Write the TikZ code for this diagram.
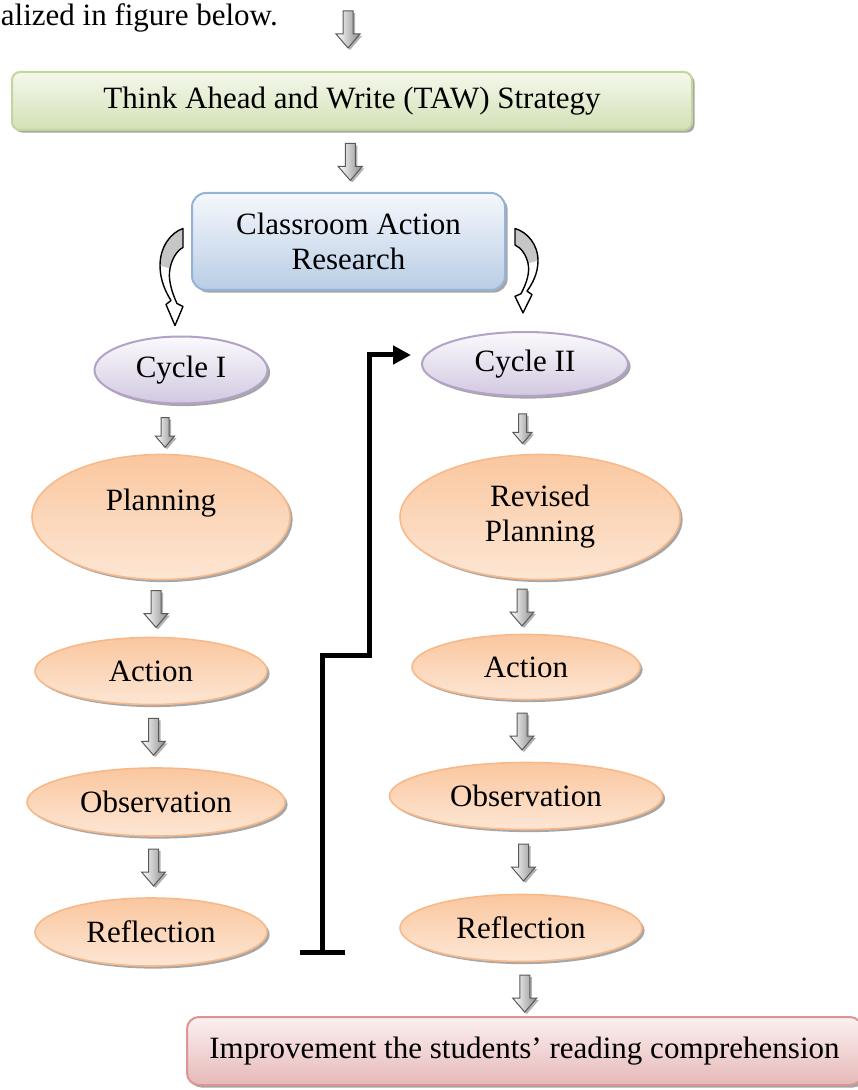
\documentclass[tikz,border=0pt]{standalone}
\usepackage{fontspec}
\setmainfont{Liberation Serif}
\usepackage{tikz}
\usetikzlibrary{calc}
\usetikzlibrary{arrows.meta}
\usetikzlibrary{shapes}
\usetikzlibrary{positioning}
\usetikzlibrary{shapes.geometric}
\usetikzlibrary{shadows}

\definecolor{grnTop}{HTML}{F4F8EC}
\definecolor{grnBot}{HTML}{D3E1B6}
\definecolor{grnLine}{HTML}{C3D69B}
\definecolor{bluTop}{HTML}{F5F8FC}
\definecolor{bluBot}{HTML}{B9CDE5}
\definecolor{bluLine}{HTML}{95B3D7}
\definecolor{vioTop}{HTML}{FBFAFD}
\definecolor{vioBot}{HTML}{D2C8E0}
\definecolor{vioLine}{HTML}{B3A2C7}
\definecolor{orgTop}{HTML}{FAC79F}
\definecolor{orgBot}{HTML}{FDE6D4}
\definecolor{orgLine}{HTML}{F8B98A}
\definecolor{redTop}{HTML}{FBF0F0}
\definecolor{redBot}{HTML}{E6B9B8}
\definecolor{redLine}{HTML}{D99694}

\tikzset{
 softshadow/.style={drop shadow={shadow xshift=1.3pt, shadow yshift=-1.3pt, opacity=0.35, fill=black}},
 greenbox/.style={rectangle, rounded corners=4pt, draw=grnLine, line width=1pt, top color=grnTop, bottom color=grnBot, softshadow, minimum width=340pt, minimum height=29pt, inner sep=1pt},
 bluebox/.style={rectangle, rounded corners=7pt, draw=bluLine, line width=1pt, top color=bluTop, bottom color=bluBot, softshadow, align=center, minimum width=156.5pt, minimum height=48.5pt, inner sep=1pt},
 violetoval/.style={ellipse, draw=vioLine, line width=1pt, top color=vioTop, bottom color=vioBot, softshadow, inner sep=1pt},
 peachoval/.style={ellipse, draw=orgLine, line width=0.8pt, top color=orgTop, bottom color=orgBot, softshadow, align=center, inner sep=1pt},
 rosebox/.style={rectangle, rounded corners=6pt, draw=redLine, line width=1pt, top color=redTop, bottom color=redBot, softshadow, minimum width=337.5pt, minimum height=34pt, inner sep=1pt},
 loopline/.style={line width=2.5pt, {Bar[width=22.5pt]}-{Triangle[length=9pt, width=9pt]}},
 dnarrow/.pic={
  \path [left color=white, right color=gray!90, draw=gray!70!black, line width=0.5pt,
         drop shadow={shadow xshift=1pt, shadow yshift=-1pt, opacity=0.3, fill=black}]
   (-5,-18) -- (5,-18) -- (5,5) -- (12,5) -- (0,19) -- (-12,5) -- (-5,5) -- cycle;
 },
 curvarrow/.pic={
  \fill [white] (0,0) .. controls (-12,4) and (-23,18) .. (-23,37) .. controls (-23,52) and (-17,64) .. (-12,72) -- (-17,76) -- (-8,97) -- (0,78) -- (-6,75) .. controls (-12,62) and (-15,50) .. (-13,40) .. controls (-11,30) and (-6,22) .. (0,19) -- cycle;
  \fill [gray!45] (0,0) .. controls (-12,4) and (-23,18) .. (-23,37) -- (-13,40) .. controls (-11,30) and (-6,22) .. (0,19) -- cycle;
  \draw [line width=0.7pt, line join=round] (0,0) .. controls (-12,4) and (-23,18) .. (-23,37) .. controls (-23,52) and (-17,64) .. (-12,72) -- (-17,76) -- (-8,97) -- (0,78) -- (-6,75) .. controls (-12,62) and (-15,50) .. (-13,40) .. controls (-11,30) and (-6,22) .. (0,19) -- cycle;
 }
}

\begin{document}
\begin{tikzpicture}[x=0.5pt, y=-0.5pt, every node/.style={font=\fontsize{15.5}{17.5}\selectfont}]
 \useasboundingbox (0,0) rectangle (857,1090);

 % top part
 \node [anchor=base west, inner sep=0pt] (intro) at (0.5,26) {alized in figure below.};
 \node [greenbox] (taw) at (352,101) {Think Ahead and Write (TAW) Strategy};
 \node [bluebox] (car) at (348.5,241.5) {Classroom Action\\Research};

 % cycle I
 \node [violetoval, minimum width=86.5pt, minimum height=33.5pt] (cyc1) at (181,370) {Cycle I};
 \node [peachoval, minimum width=129pt, minimum height=62.5pt] (plan) at (161,517) {Planning\\\mbox{}};
 \node [peachoval, minimum width=116pt, minimum height=33.5pt] (actL) at (151,671) {Action};
 \node [peachoval, minimum width=129pt, minimum height=34pt] (obsL) at (156,802) {Observation};
 \node [peachoval, minimum width=116pt, minimum height=34pt] (reflL) at (151,932) {Reflection};

 % cycle II
 \node [violetoval, minimum width=103pt, minimum height=32pt] (cyc2) at (525,364) {Cycle II};
 \node [peachoval, minimum width=140pt, minimum height=62.5pt] (rplan) at (540,517) {Revised\\Planning};
 \node [peachoval, minimum width=114pt, minimum height=32.5pt] (actR) at (526,667) {Action};
 \node [peachoval, minimum width=136.5pt, minimum height=33.5pt] (obsR) at (526,796) {Observation};
 \node [peachoval, minimum width=121pt, minimum height=33.5pt] (reflR) at (521,928) {Reflection};

 \node [rosebox] (impr) at (524.5,1051) {Improvement the students’ reading comprehension};

 % block arrows
 \pic at ($(taw.north)+(-4,-42)$) {dnarrow};
 \pic at ($(taw.south)!.5!(car.north)$) {dnarrow};
 \pic [scale=.8] at ($(cyc1.south)!.5!(plan.north)+(-6,3)$) {dnarrow};
 \pic at ($(plan.south)!.5!(actL.north)$) {dnarrow};
 \pic at ($(actL.south)!.5!(obsL.north)$) {dnarrow};
 \pic at ($(obsL.south)!.5!(reflL.north)$) {dnarrow};
 \pic [scale=.8] at ($(cyc2.south)!.5!(rplan.north)+(-10,3)$) {dnarrow};
 \pic at ($(rplan.south)!.5!(actR.north)+(-11,0)$) {dnarrow};
 \pic at ($(actR.south)!.5!(obsR.north)+(-4,0)$) {dnarrow};
 \pic at ($(obsR.south)!.5!(reflR.north)$) {dnarrow};
 \pic at ($(reflR.south)!.5!(impr.north)+(2,4)$) {dnarrow};

 % curved arrows out of the research box
 \pic at ($(car.west)+(-8,-13)$) {curvarrow};
 \pic [xscale=-1, yscale=.87] at ($(car.east)+(9,-13)$) {curvarrow};

 % from cycle I to cycle II
 \coordinate (tstart) at ($(reflL.east)+(55,23)$);
 \draw [loopline] (tstart) -- ++(0,-300) -| ($(cyc2.west)+(-52,-9)$) -- ($(cyc2.west)+(-10,-9)$);
\end{tikzpicture}
\end{document}
